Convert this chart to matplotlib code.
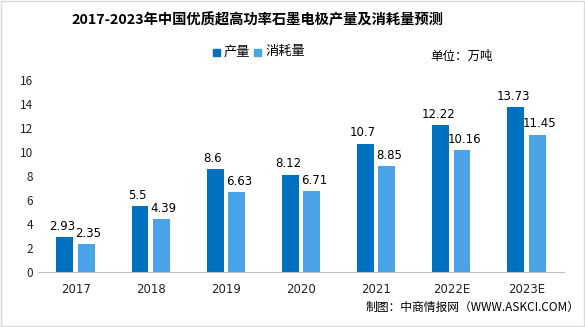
import numpy as np
import matplotlib.pyplot as plt
from matplotlib.patches import Rectangle

plt.rcParams['font.family'] = ['Noto Sans CJK SC', 'DejaVu Sans']

# 数据
years = ['2017', '2018', '2019', '2020', '2021', '2022E', '2023E']
production = [2.93, 5.5, 8.6, 8.12, 10.7, 12.22, 13.73]
consumption = [2.35, 4.39, 6.63, 6.71, 8.85, 10.16, 11.45]
yticks = [0, 2, 4, 6, 8, 10, 12, 14, 16]

c_prod = '#0070C0'
c_cons = '#4AA3E6'

fig = plt.figure(figsize=(5.85, 3.27), dpi=100)
ax = fig.add_axes([38 / 585, 1 - 272 / 327, 526 / 585, 192 / 327])

x = np.arange(len(years))
w = 0.225
gap = 0.03
b1 = ax.bar(x - w / 2 - gap, production, w, color=c_prod)
b2 = ax.bar(x + w / 2 + gap, consumption, w, color=c_cons)

for rect, v in zip(b1, production):
    ax.text(rect.get_x() + rect.get_width() / 2 - 0.03, v + 0.35, f'{v:g}',
            ha='center', va='bottom', fontsize=8.5, family='DejaVu Sans')
for rect, v in zip(b2, consumption):
    ax.text(rect.get_x() + rect.get_width() / 2 + 0.03, v + 0.35, f'{v:g}',
            ha='center', va='bottom', fontsize=8.5, family='DejaVu Sans')

ax.set_xlim(-0.5, len(years) - 0.5)
ax.set_ylim(0, 16)
ax.set_yticks(yticks)
ax.set_xticks(x)
ax.set_xticklabels(years, family='DejaVu Sans')
ax.tick_params(axis='both', length=0, labelsize=8.5, colors='#222222')
ax.tick_params(axis='x', pad=8)
for s in ['top', 'right', 'left']:
    ax.spines[s].set_visible(False)
ax.spines['bottom'].set_color('#BFBFBF')

# 标题、图例、单位
fig.text(257 / 585, 1 - 20 / 327, '2017-2023年中国优质超高功率石墨电极产量及消耗量预测',
         ha='center', va='center', fontsize=10.3, fontweight='bold')
fig.patches.append(Rectangle((213 / 585, 1 - 56 / 327), 7 / 585, 7 / 327,
                             transform=fig.transFigure, color=c_prod))
fig.text(224 / 585, 1 - 52 / 327, '产量', ha='left', va='center', fontsize=9.5)
fig.patches.append(Rectangle((254 / 585, 1 - 56 / 327), 7 / 585, 7 / 327,
                             transform=fig.transFigure, color=c_cons))
fig.text(265 / 585, 1 - 52 / 327, '消耗量', ha='left', va='center', fontsize=9.5)
fig.text(430 / 585, 1 - 56 / 327, '单位：万吨', ha='left', va='center', fontsize=9)

fig.text(580 / 585, 1 - 307 / 327, '制图：中商情报网（WWW.ASKCI.COM）',
         ha='right', va='center', fontsize=8.5)

fig.patches.append(Rectangle((0.001, 0.002), 0.997, 0.995, transform=fig.transFigure,
                             fill=False, edgecolor='#D9D9D9', linewidth=1))

fig.savefig('out.png', dpi=100)
